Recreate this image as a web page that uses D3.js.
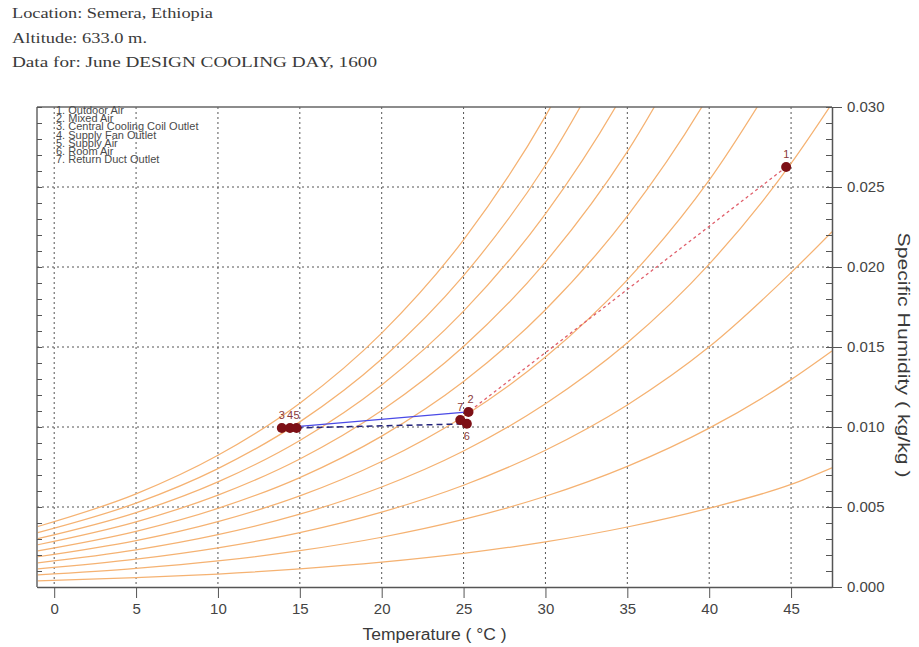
<!DOCTYPE html>
<html>
<head>
<meta charset="utf-8">
<script src="https://cdn.jsdelivr.net/npm/d3@7/dist/d3.min.js"></script>
<style>
  body { margin: 0; background: #fff; }
  .header { font-family: "Liberation Serif", "Times New Roman", serif; font-size: 15px; fill: #3a3a3a; }
  .tick-label { font-family: "Liberation Sans", Arial, sans-serif; font-size: 15px; fill: #444; }
  .axis-title { font-family: "Liberation Sans", Arial, sans-serif; font-size: 16px; fill: #3a3a3a; }
  .legend { font-family: "Liberation Sans", Arial, sans-serif; font-size: 11px; fill: #4a4a4a; }
  .pt-label { font-family: "Liberation Sans", Arial, sans-serif; font-size: 11px; fill: #8a3a3a; }
</style>
</head>
<body>
<div id="chart"></div>
<script>
// header lines
var headerLines = ["Location: Semera, Ethiopia", "Altitude: 633.0  m.", "Data for: June DESIGN COOLING DAY, 1600"];

// axis ticks
var tempTicks = [0, 5, 10, 15, 20, 25, 30, 35, 40, 45];
var humidityTicks = [0.000, 0.005, 0.010, 0.015, 0.020, 0.025, 0.030];

// relative humidity curves (temperature -> specific humidity)
var curveTemps = [-1, 5, 10, 15, 20, 25, 30, 35, 40, 45, 47.5];
var rh100 = [0.00378, 0.00582, 0.00823, 0.01149, 0.01587, 0.02170, 0.02943, 0.03960];
var rh90 = [0.00340, 0.00524, 0.00740, 0.01032, 0.01425, 0.01946, 0.02636, 0.03543];
var rh80 = [0.00302, 0.00465, 0.00657, 0.00916, 0.01263, 0.01724, 0.02332, 0.03129, 0.04170];
var rh70 = [0.00264, 0.00407, 0.00574, 0.00800, 0.01103, 0.01503, 0.02031, 0.02721, 0.03619];
var rh60 = [0.00226, 0.00348, 0.00491, 0.00684, 0.00943, 0.01284, 0.01733, 0.02318, 0.03077, 0.04057];
var rh50 = [0.00189, 0.00290, 0.00409, 0.00569, 0.00784, 0.01066, 0.01437, 0.01920, 0.02543, 0.03345];
var rh40 = [0.00151, 0.00232, 0.00327, 0.00455, 0.00625, 0.00850, 0.01145, 0.01526, 0.02018, 0.02647, 0.03022];
var rh30 = [0.00113, 0.00174, 0.00245, 0.00340, 0.00468, 0.00636, 0.00855, 0.01138, 0.01501, 0.01965, 0.02220];
var rh20 = [0.00075, 0.00116, 0.00163, 0.00227, 0.00311, 0.00422, 0.00567, 0.00754, 0.00993, 0.01296, 0.01475];
var rh10 = [0.00038, 0.00058, 0.00081, 0.00113, 0.00155, 0.00210, 0.00282, 0.00375, 0.00493, 0.00641, 0.00745];
var rhCurves = [rh100, rh90, rh80, rh70, rh60, rh50, rh40, rh30, rh20, rh10];

// state points
var pointLabels = ["1", "2", "3", "4", "5", "6", "7"];
var pointTemps = [44.7, 25.3, 13.9, 14.4, 14.8, 25.2, 24.8];
var pointHumidity = [0.02625, 0.01094, 0.00994, 0.00994, 0.00994, 0.01020, 0.01044];

// legend
var legendItems = ["1. Outdoor Air", "2. Mixed Air", "3. Central Cooling Coil Outlet", "4. Supply Fan Outlet",
    "5. Supply Air", "6. Room Air", "7. Return Duct Outlet"];

// process paths (by point label)
var mixingPath = ["1", "2", "7"];
var coilPath = ["2", "3", "4", "5"];
var roomPath = ["5", "6"];
var returnPath = ["6", "7"];

// svg area
var svgWidth = 919;
var svgHeight = 647;

var plot = { left: 37, right: 832, top: 107, bottom: 587 };

var svg = d3.select("#chart")
    .append("svg")
    .attr("width", svgWidth)
    .attr("height", svgHeight);

// header text
svg.selectAll("text.header")
    .data(headerLines)
    .enter()
    .append("text")
    .attr("class", "header")
    .attr("x", 12)
    .attr("y", (d, i) => 18 + i * 24.5)
    .attr("textLength", (d, i) => [201, 135, 365][i])
    .attr("lengthAdjust", "spacingAndGlyphs")
    .text(d => d);

// scales
var xScale = d3.scaleLinear()
    .domain([-1.05, 47.5])
    .range([plot.left, plot.right]);

var yScale = d3.scaleLinear()
    .domain([0, 0.030])
    .range([plot.bottom, plot.top]);

svg.append("clipPath")
    .attr("id", "plot-clip")
    .append("rect")
    .attr("x", plot.left)
    .attr("y", plot.top)
    .attr("width", plot.right - plot.left)
    .attr("height", plot.bottom - plot.top);

// grid lines
var grid = svg.append("g");
grid.selectAll("line.vgrid")
    .data(tempTicks)
    .enter()
    .append("line")
    .attr("x1", d => xScale(d))
    .attr("x2", d => xScale(d))
    .attr("y1", plot.top)
    .attr("y2", plot.bottom)
    .attr("stroke", "#555")
    .attr("stroke-width", 1)
    .attr("stroke-dasharray", "2,3");

grid.selectAll("line.hgrid")
    .data(humidityTicks.slice(1, -1))
    .enter()
    .append("line")
    .attr("x1", plot.left)
    .attr("x2", plot.right)
    .attr("y1", d => yScale(d))
    .attr("y2", d => yScale(d))
    .attr("stroke", "#555")
    .attr("stroke-width", 1)
    .attr("stroke-dasharray", "2,3");

// rh curves
var rhLine = d3.line()
    .x(d => xScale(d[0]))
    .y(d => yScale(d[1]))
    .curve(d3.curveMonotoneX);

svg.append("g")
    .attr("clip-path", "url(#plot-clip)")
    .selectAll("path")
    .data(rhCurves)
    .enter()
    .append("path")
    .attr("d", vals => rhLine(vals.map((w, i) => [curveTemps[i], w])))
    .attr("fill", "none")
    .attr("stroke", "#f5b272")
    .attr("stroke-width", 1.25);

// frame
svg.append("line")
    .attr("x1", plot.left).attr("x2", plot.right)
    .attr("y1", plot.top).attr("y2", plot.top)
    .attr("stroke", "#666").attr("stroke-width", 1.5);
svg.append("line")
    .attr("x1", plot.left).attr("x2", plot.left)
    .attr("y1", plot.top).attr("y2", plot.bottom)
    .attr("stroke", "#666").attr("stroke-width", 1.5);

// bottom axis
var bottomAxis = d3.axisBottom(xScale)
    .tickValues(tempTicks)
    .tickSizeInner(11)
    .tickSizeOuter(0)
    .tickPadding(5);

var xAxisGroup = svg.append("g")
    .attr("transform", `translate(0, ${plot.bottom})`)
    .call(bottomAxis);
xAxisGroup.select(".domain").attr("stroke", "#555").attr("stroke-width", 1.5);
xAxisGroup.selectAll(".tick line").attr("stroke", "#555");
xAxisGroup.selectAll(".tick text")
    .attr("class", "tick-label")
    .attr("font-family", null)
    .attr("font-size", null);

// right axis: minor ticks every 0.001, inward
var minorTicks = d3.range(0, 31).map(d => d / 1000);
var rightAxisMinor = d3.axisRight(yScale)
    .tickValues(minorTicks)
    .tickSizeInner(-6)
    .tickSizeOuter(0)
    .tickFormat("");
var yMinor = svg.append("g")
    .attr("transform", `translate(${plot.right}, 0)`)
    .call(rightAxisMinor);
yMinor.select(".domain").attr("stroke", "#555").attr("stroke-width", 1.5);
yMinor.selectAll(".tick line").attr("stroke", "#555");

var rightAxis = d3.axisRight(yScale)
    .tickValues(humidityTicks)
    .tickSizeInner(10)
    .tickSizeOuter(0)
    .tickPadding(5)
    .tickFormat(d3.format(".3f"));
var yAxisGroup = svg.append("g")
    .attr("transform", `translate(${plot.right}, 0)`)
    .call(rightAxis);
yAxisGroup.select(".domain").remove();
yAxisGroup.selectAll(".tick line").attr("stroke", "#555").attr("x1", -6);
yAxisGroup.selectAll(".tick text")
    .attr("class", "tick-label")
    .attr("font-family", null)
    .attr("font-size", null);

// left axis minor ticks, inward
var leftAxisMinor = d3.axisLeft(yScale)
    .tickValues(minorTicks)
    .tickSizeInner(-5)
    .tickSizeOuter(0)
    .tickFormat("");
var yLeft = svg.append("g")
    .attr("transform", `translate(${plot.left}, 0)`)
    .call(leftAxisMinor);
yLeft.select(".domain").remove();
yLeft.selectAll(".tick line").attr("stroke", "#555");

// axis titles
svg.append("text")
    .attr("class", "axis-title")
    .attr("x", (plot.left + plot.right) / 2)
    .attr("y", 640)
    .attr("text-anchor", "middle")
    .attr("textLength", 144)
    .attr("lengthAdjust", "spacingAndGlyphs")
    .text("Temperature ( °C )");

svg.append("text")
    .attr("class", "axis-title")
    .attr("transform", `translate(898, 355) rotate(90)`)
    .attr("text-anchor", "middle")
    .attr("textLength", 245)
    .attr("lengthAdjust", "spacingAndGlyphs")
    .text("Specific Humidity ( kg/kg )");

// legend
svg.append("g")
    .selectAll("text")
    .data(legendItems)
    .enter()
    .append("text")
    .attr("class", "legend")
    .attr("x", 56)
    .attr("y", (d, i) => 114 + i * 8.2)
    .text(d => d);

// process lines
function pathPoints(labels) {
    return labels.map(l => {
        var i = pointLabels.indexOf(l);
        return [pointTemps[i], pointHumidity[i]];
    });
}
var straight = d3.line()
    .x(d => xScale(d[0]))
    .y(d => yScale(d[1]));

svg.append("path")
    .attr("d", straight(pathPoints(mixingPath)))
    .attr("fill", "none")
    .attr("stroke", "#e0606c")
    .attr("stroke-width", 1.3)
    .attr("stroke-dasharray", "3,3");

svg.append("path")
    .attr("d", straight(pathPoints(coilPath)))
    .attr("fill", "none")
    .attr("stroke", "#4a4ae6")
    .attr("stroke-width", 1.3);

svg.append("path")
    .attr("d", straight(pathPoints(roomPath)))
    .attr("fill", "none")
    .attr("stroke", "#23237a")
    .attr("stroke-width", 1.5)
    .attr("stroke-dasharray", "6,4");

svg.append("path")
    .attr("d", straight(pathPoints(returnPath)))
    .attr("fill", "none")
    .attr("stroke", "#4a4ae6")
    .attr("stroke-width", 1.3);

// state points
svg.append("g")
    .selectAll("circle")
    .data(pointLabels)
    .enter()
    .append("circle")
    .attr("cx", (d, i) => xScale(pointTemps[i]))
    .attr("cy", (d, i) => yScale(pointHumidity[i]))
    .attr("r", 5)
    .attr("fill", "#7d1016");

svg.append("g")
    .selectAll("text")
    .data(pointLabels)
    .enter()
    .append("text")
    .attr("class", "pt-label")
    .attr("x", (d, i) => xScale(pointTemps[i]) - 3 + (d === "2" ? 2 : 0))
    .attr("y", (d, i) => yScale(pointHumidity[i]) + (d === "6" ? 16 : -9))
    .text(d => d);
</script>
</body>
</html>
